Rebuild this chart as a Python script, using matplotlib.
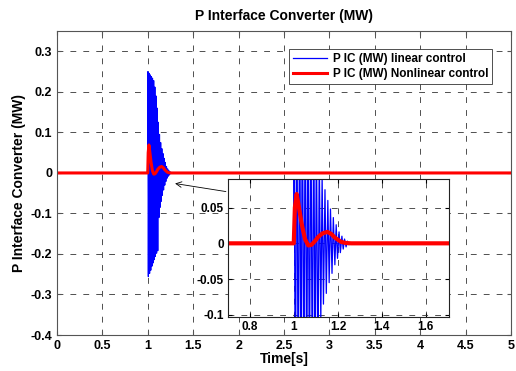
import matplotlib
matplotlib.use('Agg')
import matplotlib.pyplot as plt
import numpy as np

plt.rcParams['font.family'] = ['Liberation Sans', 'DejaVu Sans']
plt.rcParams['font.weight'] = 'bold'

# ---- data ----
# linear control: extreme points of the fast oscillation after the step at t = 1 s
lin_t = [0.0, 0.999,
         1.000, 1.006, 1.013, 1.019, 1.026, 1.032, 1.038, 1.045, 1.051, 1.058,
         1.064, 1.070, 1.077, 1.083, 1.090, 1.096, 1.102, 1.109, 1.115, 1.122,
         1.128, 1.134, 1.141, 1.147, 1.154, 1.160, 1.166, 1.173, 1.179, 1.186,
         1.192, 1.198, 1.205, 1.211, 1.218, 1.224, 1.230, 1.237, 1.243, 1.250,
         1.256, 1.262, 5.0]
lin_p = [0.0, 0.0,
         0.250, -0.256, 0.246, -0.248, 0.242, -0.240, 0.238, -0.230, 0.234, -0.222,
         0.228, -0.214, 0.212, -0.206, 0.190, -0.198, 0.160, -0.192, 0.125, -0.110,
         0.095, -0.085, 0.075, -0.070, 0.060, -0.055, 0.048, -0.042, 0.036, -0.030,
         0.026, -0.021, 0.016, -0.013, 0.010, -0.008, 0.006, -0.005, 0.003, -0.002,
         0.001, 0.0, 0.0]

# nonlinear control
nl_t = [0.0, 0.999, 1.004, 1.012, 1.020, 1.035, 1.050, 1.065, 1.080, 1.095, 1.110,
        1.130, 1.152, 1.170, 1.186, 1.200, 1.215, 1.235, 1.260, 5.0]
nl_p = [0.0, 0.0, 0.050, 0.069, 0.055, 0.027, 0.006, -0.003, -0.002, 0.003, 0.009,
        0.014, 0.016, 0.013, 0.008, 0.005, 0.002, 0.0005, 0.0, 0.0]

xticks_main = [0, 0.5, 1, 1.5, 2, 2.5, 3, 3.5, 4, 4.5, 5]
xlabels_main = ['0', '0.5', '1', '1.5', '2', '2.5', '3', '3.5', '4', '4.5', '5']
yticks_main = [-0.4, -0.3, -0.2, -0.1, 0, 0.1, 0.2, 0.3]
ylabels_main = ['-0.4', '-0.3', '-0.2', '-0.1', '0', '0.1', '0.2', '0.3']
xticks_zoom = [0.8, 1, 1.2, 1.4, 1.6]
xlabels_zoom = ['0.8', '1', '1.2', '1.4', '1.6']
yticks_zoom = [-0.1, -0.05, 0, 0.05]
ylabels_zoom = ['-0.1', '-0.05', '0', '0.05']

grid_dash = (0, (7, 8.5))

fig = plt.figure(figsize=(5.16, 3.71), dpi=100)
ax = fig.add_axes([0.1105, 0.097, 0.880, 0.819])

ax.plot(lin_t, lin_p, color='#0000ff', lw=0.9, label='P IC (MW) linear control')
ax.plot(nl_t, nl_p, color='#ff0000', lw=2.2, label='P IC (MW) Nonlinear control')
ax.set_xlim(0, 5)
ax.set_ylim(-0.4, 0.35)
ax.set_xticks(xticks_main)
ax.set_xticklabels(xlabels_main)
ax.set_yticks(yticks_main)
ax.set_yticklabels(ylabels_main)
ax.tick_params(direction='in', top=True, right=True, labelsize=9, length=3,
               color='#555555')
ax.grid(True, color='#333333', linestyle=grid_dash, lw=0.6)
for s in ax.spines.values():
    s.set_color('#555555')
ax.set_title('P Interface Converter (MW)', fontsize=10, fontweight='bold', pad=8)
ax.set_xlabel('Time[s]', fontsize=10, fontweight='bold', labelpad=0)
ax.set_ylabel('P Interface Converter (MW)', fontsize=10, fontweight='bold', labelpad=3)

leg = ax.legend(loc='upper right', bbox_to_anchor=(0.972, 0.96), fontsize=8.5,
                fancybox=False, framealpha=1, edgecolor='#333333',
                handlelength=2.9, handletextpad=0.5, borderpad=0.35,
                labelspacing=0.25)
leg.get_frame().set_linewidth(0.6)

ax.annotate('', xy=(1.27, -0.025), xytext=(1.89, -0.047),
            arrowprops=dict(arrowstyle='->', color='black', lw=0.6))

# zoomed inset
axi = fig.add_axes([0.442, 0.1456, 0.428, 0.372])
axi.plot(lin_t, lin_p, color='#0000ff', lw=0.9)
axi.plot(nl_t, nl_p, color='#ff0000', lw=3)
axi.set_xlim(0.7, 1.705)
axi.set_ylim(-0.103, 0.09)
axi.set_xticks(xticks_zoom)
axi.set_xticklabels(xlabels_zoom)
axi.set_yticks(yticks_zoom)
axi.set_yticklabels(ylabels_zoom)
axi.tick_params(direction='in', top=True, right=True, labelsize=8.5, length=3,
                pad=3)
axi.grid(True, color='#333333', linestyle=grid_dash, lw=0.6)
for s in axi.spines.values():
    s.set_color('#222222')

fig.savefig('out.png', dpi=100)
